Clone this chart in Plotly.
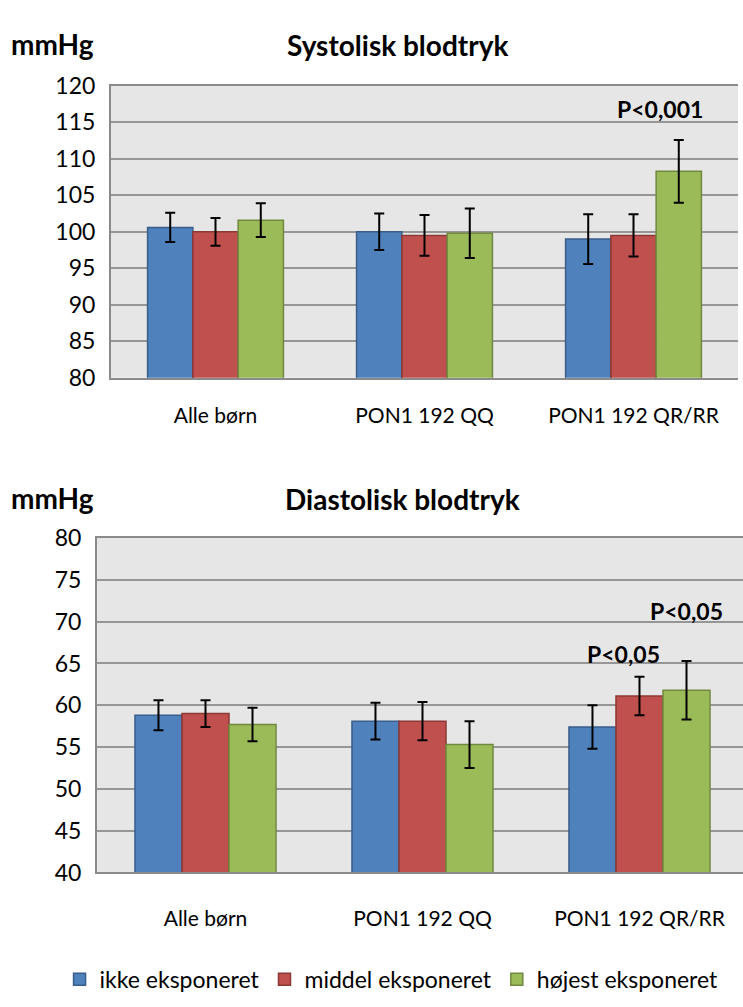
import plotly.graph_objects as go

categories = ["Alle børn", "PON1 192 QQ", "PON1 192 QR/RR"]
series_names = ["ikke eksponeret", "middel eksponeret", "højest eksponeret"]

sys_ikke = [100.6, 100.0, 99.0]
sys_middel = [100.0, 99.5, 99.5]
sys_hojest = [101.6, 99.8, 108.3]
sys_err_ikke = [2.0, 2.5, 3.4]
sys_err_middel = [1.9, 2.8, 2.9]
sys_err_hojest = [2.3, 3.4, 4.3]

dia_ikke = [58.8, 58.1, 57.4]
dia_middel = [59.0, 58.1, 61.1]
dia_hojest = [57.7, 55.3, 61.8]
dia_err_ikke = [1.8, 2.2, 2.6]
dia_err_middel = [1.6, 2.3, 2.3]
dia_err_hojest = [2.0, 2.8, 3.5]

sys_ticks = [80, 85, 90, 95, 100, 105, 110, 115, 120]
dia_ticks = [40, 45, 50, 55, 60, 65, 70, 75, 80]

fill_colors = ["#4f81bd", "#c0504d", "#9bbb59"]
line_colors = ["#385d8a", "#8c3836", "#71893f"]

FONT = "Lato"
W, H = 743, 1007

fig = go.Figure()

sys_vals = [sys_ikke, sys_middel, sys_hojest]
sys_errs = [sys_err_ikke, sys_err_middel, sys_err_hojest]
dia_vals = [dia_ikke, dia_middel, dia_hojest]
dia_errs = [dia_err_ikke, dia_err_middel, dia_err_hojest]

for i in range(3):
    fig.add_trace(go.Bar(
        x=categories, y=sys_vals[i], name=series_names[i],
        marker=dict(color=fill_colors[i], line=dict(color=line_colors[i], width=1.5)),
        error_y=dict(type="data", array=sys_errs[i], color="black", thickness=2, width=5),
        xaxis="x", yaxis="y", showlegend=True, legendgroup=series_names[i],
    ))
for i in range(3):
    fig.add_trace(go.Bar(
        x=categories, y=dia_vals[i], name=series_names[i],
        marker=dict(color=fill_colors[i], line=dict(color=line_colors[i], width=1.5)),
        error_y=dict(type="data", array=dia_errs[i], color="black", thickness=2, width=5),
        xaxis="x2", yaxis="y2", showlegend=False, legendgroup=series_names[i],
    ))

grid = "#969696"
axis_line = "#8a8a8a"

top_y = [1 - 373 / H, 1 - 73 / H]
bot_y = [1 - 882 / H, 1 - 538 / H]

TICK = 23
CAT = 21

fig.update_layout(
    width=W, height=H,
    margin=dict(l=0, r=0, t=0, b=0),
    paper_bgcolor="white",
    plot_bgcolor="#e6e6e6",
    barmode="group",
    bargap=0.35,
    bargroupgap=0,
    font=dict(family=FONT, size=18, color="black"),
    xaxis=dict(domain=[111 / W, 738 / W], anchor="y", type="category",
               range=[-0.5, 2.5], showline=True, linecolor=axis_line, linewidth=2,
               mirror=True, ticks="", ticklabelstandoff=18,
               tickfont=dict(family=FONT, size=CAT)),
    yaxis=dict(domain=top_y, anchor="x", range=[80, 120], tickvals=sys_ticks,
               showgrid=True, gridcolor=grid, gridwidth=1.5,
               showline=True, linecolor=axis_line, linewidth=2,
               ticks="", ticklabelstandoff=9, zeroline=False,
               tickfont=dict(family=FONT, size=TICK)),
    xaxis2=dict(domain=[97 / W, 1], anchor="y2", type="category",
                range=[-0.5, 2.477], showline=True, linecolor=axis_line, linewidth=2,
                mirror=True, ticks="", ticklabelstandoff=26,
                tickfont=dict(family=FONT, size=CAT)),
    yaxis2=dict(domain=bot_y, anchor="x2", range=[40, 80], tickvals=dia_ticks,
                showgrid=True, gridcolor=grid, gridwidth=1.5,
                showline=True, linecolor=axis_line, linewidth=2,
                ticks="", ticklabelstandoff=9, zeroline=False,
                tickfont=dict(family=FONT, size=TICK)),
    legend=dict(orientation="h", x=0.527, xanchor="center", y=1 - 992 / H, yanchor="middle",
                font=dict(family=FONT, size=23), itemwidth=30, tracegroupgap=0,
                bgcolor="rgba(0,0,0,0)"),
)

annots = [
    dict(text="<b>mmHg</b>", x=9 / W, y=1 - 30 / H, xanchor="left", size=28),
    dict(text="<b>Systolisk blodtryk</b>", x=397 / W, y=1 - 31 / H, xanchor="center", size=28),
    dict(text="<b>mmHg</b>", x=9 / W, y=1 - 497 / H, xanchor="left", size=28),
    dict(text="<b>Diastolisk blodtryk</b>", x=402 / W, y=1 - 498 / H, xanchor="center", size=28),
]
for a in annots:
    fig.add_annotation(text=a["text"], x=a["x"], y=a["y"], xref="paper", yref="paper",
                       xanchor=a["xanchor"], yanchor="middle", showarrow=False,
                       font=dict(family=FONT, size=a["size"], color="black"))

fig.add_annotation(text="<b>P<0,001</b>", x=2.125, y=116.8, xref="x", yref="y",
                   showarrow=False, font=dict(family=FONT, size=23, color="black"))
fig.add_annotation(text="<b>P<0,05</b>", x=1.926, y=66.1, xref="x2", yref="y2",
                   showarrow=False, font=dict(family=FONT, size=23, color="black"))
fig.add_annotation(text="<b>P<0,05</b>", x=2.217, y=71.3, xref="x2", yref="y2",
                   showarrow=False, font=dict(family=FONT, size=23, color="black"))

fig.write_html("out.html", config={"displayModeBar": False},
               post_script="document.body.style.margin='0';")
